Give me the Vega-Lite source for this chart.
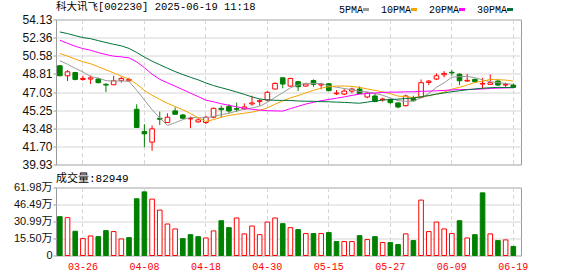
{
  "$schema": "https://vega.github.io/schema/vega-lite/v6.json",
  "background": "white",
  "padding": {"left": 12, "top": 0.5, "right": 4, "bottom": 2},
  "config": {
    "view": {"stroke": "#999999", "strokeWidth": 1},
    "concat": {"spacing": 0},
    "axis": {"gridColor": "#d6d6d6", "gridWidth": 1, "tickColor": "#999999", "domain": false, "title": null, "labelOverlap": false}
  },
  "datasets": {
    "k": [
      {"d":"03-21","o":49.60,"h":49.66,"l":48.58,"c":48.62,"v":354000,"cd":"d","vd":"d","m5":50.10,"m10":50.80,"m20":52.10,"m30":52.91},
      {"d":"03-24","o":48.62,"h":49.17,"l":48.10,"c":49.01,"v":345000,"cd":"u","vd":"u","m5":49.75,"m10":50.55,"m20":51.80,"m30":52.75},
      {"d":"03-25","o":48.94,"h":49.01,"l":48.17,"c":48.26,"v":221000,"cd":"d","vd":"d","m5":49.35,"m10":50.25,"m20":51.51,"m30":52.55},
      {"d":"03-26","o":48.26,"h":48.62,"l":48.13,"c":48.36,"v":154000,"cd":"u","vd":"u","m5":49.00,"m10":50.00,"m20":51.28,"m30":52.36},
      {"d":"03-27","o":48.30,"h":48.65,"l":47.81,"c":48.42,"v":178000,"cd":"u","vd":"u","m5":48.53,"m10":49.80,"m20":51.12,"m30":52.25},
      {"d":"03-28","o":48.30,"h":48.42,"l":47.90,"c":47.94,"v":172000,"cd":"d","vd":"d","m5":48.40,"m10":49.50,"m20":50.89,"m30":52.06},
      {"d":"03-31","o":47.78,"h":47.90,"l":47.03,"c":47.71,"v":227000,"cd":"d","vd":"d","m5":48.14,"m10":49.20,"m20":50.70,"m30":51.88},
      {"d":"04-01","o":47.74,"h":48.62,"l":47.70,"c":48.13,"v":218000,"cd":"u","vd":"u","m5":48.11,"m10":48.90,"m20":50.54,"m30":51.70},
      {"d":"04-02","o":48.17,"h":48.52,"l":47.94,"c":48.36,"v":151000,"cd":"u","vd":"u","m5":48.11,"m10":48.58,"m20":50.47,"m30":51.55},
      {"d":"04-03","o":48.13,"h":48.42,"l":48.04,"c":48.26,"v":163000,"cd":"u","vd":"d","m5":48.08,"m10":48.31,"m20":50.37,"m30":51.30},
      {"d":"04-07","o":45.34,"h":45.83,"l":43.52,"c":43.55,"v":517000,"cd":"d","vd":"d","m5":47.20,"m10":47.80,"m20":49.98,"m30":50.90},
      {"d":"04-08","o":43.16,"h":43.88,"l":41.63,"c":42.93,"v":580000,"cd":"d","vd":"d","m5":46.25,"m10":47.19,"m20":49.42,"m30":50.45},
      {"d":"04-09","o":42.12,"h":43.75,"l":41.28,"c":43.42,"v":514000,"cd":"u","vd":"u","m5":45.30,"m10":46.71,"m20":48.77,"m30":50.05},
      {"d":"04-10","o":44.46,"h":45.11,"l":43.81,"c":44.36,"v":414000,"cd":"d","vd":"u","m5":44.50,"m10":46.31,"m20":48.27,"m30":49.70},
      {"d":"04-11","o":44.04,"h":44.95,"l":44.00,"c":44.56,"v":287000,"cd":"u","vd":"u","m5":43.76,"m10":45.92,"m20":47.93,"m30":49.36},
      {"d":"04-14","o":45.18,"h":45.53,"l":44.82,"c":44.85,"v":242000,"cd":"d","vd":"u","m5":44.02,"m10":45.61,"m20":47.60,"m30":49.03},
      {"d":"04-15","o":44.78,"h":44.88,"l":44.40,"c":44.46,"v":154000,"cd":"d","vd":"d","m5":44.33,"m10":45.29,"m20":47.26,"m30":48.74},
      {"d":"04-16","o":44.40,"h":44.62,"l":43.49,"c":44.43,"v":190000,"cd":"u","vd":"d","m5":44.53,"m10":44.91,"m20":46.92,"m30":48.47},
      {"d":"04-17","o":44.10,"h":44.46,"l":44.04,"c":44.30,"v":172000,"cd":"u","vd":"d","m5":44.51,"m10":44.51,"m20":46.58,"m30":48.22},
      {"d":"04-18","o":44.04,"h":44.72,"l":43.88,"c":44.56,"v":160000,"cd":"u","vd":"u","m5":44.51,"m10":44.14,"m20":46.23,"m30":47.92},
      {"d":"04-21","o":44.56,"h":45.50,"l":44.46,"c":45.43,"v":224000,"cd":"u","vd":"u","m5":44.64,"m10":44.33,"m20":46.07,"m30":47.66},
      {"d":"04-22","o":45.43,"h":45.69,"l":44.53,"c":45.30,"v":317000,"cd":"d","vd":"d","m5":44.82,"m10":44.56,"m20":45.88,"m30":47.45},
      {"d":"04-23","o":45.60,"h":45.83,"l":44.95,"c":45.17,"v":254000,"cd":"d","vd":"d","m5":44.95,"m10":44.74,"m20":45.73,"m30":47.25},
      {"d":"04-24","o":45.40,"h":45.99,"l":45.08,"c":45.34,"v":342000,"cd":"d","vd":"u","m5":45.16,"m10":44.85,"m20":45.58,"m30":47.03},
      {"d":"04-25","o":45.37,"h":45.92,"l":45.30,"c":45.56,"v":197000,"cd":"u","vd":"u","m5":45.36,"m10":44.95,"m20":45.43,"m30":46.80},
      {"d":"04-28","o":45.86,"h":46.67,"l":45.69,"c":45.96,"v":269000,"cd":"u","vd":"u","m5":45.47,"m10":45.06,"m20":45.34,"m30":46.55},
      {"d":"04-29","o":46.09,"h":46.34,"l":45.69,"c":46.18,"v":190000,"cd":"u","vd":"u","m5":45.64,"m10":45.23,"m20":45.26,"m30":46.35},
      {"d":"04-30","o":46.25,"h":47.12,"l":46.09,"c":47.00,"v":305000,"cd":"u","vd":"u","m5":46.01,"m10":45.48,"m20":45.20,"m30":46.25},
      {"d":"05-06","o":47.32,"h":47.97,"l":47.29,"c":47.87,"v":342000,"cd":"u","vd":"u","m5":46.51,"m10":45.84,"m20":45.18,"m30":46.22},
      {"d":"05-07","o":48.42,"h":48.45,"l":47.39,"c":47.81,"v":290000,"cd":"d","vd":"d","m5":46.96,"m10":46.16,"m20":45.16,"m30":46.21},
      {"d":"05-08","o":47.61,"h":48.42,"l":47.55,"c":48.36,"v":254000,"cd":"u","vd":"u","m5":47.44,"m10":46.46,"m20":45.40,"m30":46.20},
      {"d":"05-09","o":48.04,"h":48.10,"l":47.13,"c":47.55,"v":236000,"cd":"d","vd":"d","m5":47.72,"m10":46.68,"m20":45.63,"m30":46.15},
      {"d":"05-12","o":47.61,"h":47.87,"l":47.55,"c":47.81,"v":200000,"cd":"u","vd":"u","m5":47.88,"m10":46.94,"m20":45.85,"m30":46.13},
      {"d":"05-13","o":48.16,"h":48.26,"l":47.55,"c":47.78,"v":200000,"cd":"d","vd":"d","m5":47.86,"m10":47.19,"m20":46.02,"m30":46.12},
      {"d":"05-14","o":47.71,"h":47.94,"l":47.29,"c":47.81,"v":200000,"cd":"u","vd":"u","m5":47.86,"m10":47.41,"m20":46.18,"m30":46.09},
      {"d":"05-15","o":47.84,"h":47.90,"l":47.13,"c":47.16,"v":209000,"cd":"d","vd":"d","m5":47.62,"m10":47.54,"m20":46.30,"m30":46.07},
      {"d":"05-16","o":46.86,"h":47.22,"l":46.73,"c":46.93,"v":127000,"cd":"u","vd":"d","m5":47.50,"m10":47.61,"m20":46.42,"m30":46.04},
      {"d":"05-19","o":46.83,"h":47.32,"l":46.73,"c":47.12,"v":127000,"cd":"u","vd":"u","m5":47.37,"m10":47.62,"m20":46.55,"m30":46.01},
      {"d":"05-20","o":47.12,"h":47.45,"l":46.90,"c":47.32,"v":127000,"cd":"u","vd":"u","m5":47.27,"m10":47.57,"m20":46.70,"m30":45.97},
      {"d":"05-21","o":47.32,"h":47.58,"l":46.83,"c":46.88,"v":181000,"cd":"d","vd":"d","m5":47.08,"m10":47.48,"m20":46.82,"m30":45.93},
      {"d":"05-22","o":46.54,"h":47.00,"l":46.41,"c":46.92,"v":145000,"cd":"u","vd":"u","m5":47.05,"m10":47.33,"m20":46.89,"m30":46.04},
      {"d":"05-23","o":46.64,"h":46.90,"l":46.05,"c":46.09,"v":172000,"cd":"d","vd":"d","m5":46.89,"m10":47.19,"m20":46.93,"m30":46.14},
      {"d":"05-26","o":46.28,"h":46.47,"l":46.09,"c":46.34,"v":118000,"cd":"u","vd":"u","m5":46.71,"m10":47.04,"m20":46.99,"m30":46.24},
      {"d":"05-27","o":46.31,"h":46.41,"l":45.83,"c":45.99,"v":118000,"cd":"d","vd":"d","m5":46.44,"m10":46.86,"m20":47.02,"m30":46.29},
      {"d":"05-28","o":45.96,"h":46.02,"l":45.44,"c":45.56,"v":100000,"cd":"d","vd":"d","m5":46.18,"m10":46.63,"m20":47.02,"m30":46.33},
      {"d":"05-29","o":45.69,"h":46.77,"l":45.60,"c":46.64,"v":197000,"cd":"u","vd":"u","m5":46.12,"m10":46.57,"m20":47.05,"m30":46.39},
      {"d":"05-30","o":46.41,"h":46.67,"l":46.09,"c":46.18,"v":136000,"cd":"d","vd":"d","m5":46.14,"m10":46.49,"m20":47.05,"m30":46.44},
      {"d":"06-03","o":46.51,"h":48.26,"l":46.41,"c":47.94,"v":505000,"cd":"u","vd":"u","m5":46.46,"m10":46.57,"m20":47.10,"m30":46.56},
      {"d":"06-04","o":47.97,"h":48.20,"l":47.71,"c":48.10,"v":218000,"cd":"u","vd":"u","m5":46.88,"m10":46.65,"m20":47.11,"m30":46.69},
      {"d":"06-05","o":48.30,"h":48.85,"l":48.20,"c":48.62,"v":305000,"cd":"u","vd":"u","m5":47.50,"m10":46.83,"m20":47.15,"m30":46.82},
      {"d":"06-06","o":48.72,"h":49.08,"l":48.46,"c":48.85,"v":242000,"cd":"u","vd":"u","m5":47.93,"m10":47.02,"m20":47.18,"m30":46.94},
      {"d":"06-09","o":48.96,"h":49.17,"l":48.62,"c":48.90,"v":200000,"cd":"d","vd":"u","m5":48.48,"m10":47.31,"m20":47.24,"m30":47.06},
      {"d":"06-10","o":48.78,"h":48.85,"l":47.71,"c":48.13,"v":317000,"cd":"d","vd":"d","m5":48.54,"m10":47.49,"m20":47.26,"m30":47.15},
      {"d":"06-11","o":48.10,"h":48.81,"l":48.07,"c":48.17,"v":160000,"cd":"u","vd":"u","m5":48.56,"m10":47.71,"m20":47.28,"m30":47.25},
      {"d":"06-12","o":48.26,"h":48.36,"l":47.97,"c":48.04,"v":190000,"cd":"d","vd":"d","m5":48.43,"m10":47.96,"m20":47.29,"m30":47.33},
      {"d":"06-13","o":47.81,"h":48.42,"l":47.32,"c":47.87,"v":571000,"cd":"u","vd":"d","m5":48.22,"m10":48.08,"m20":47.33,"m30":47.40},
      {"d":"06-16","o":47.78,"h":48.75,"l":47.71,"c":47.94,"v":197000,"cd":"u","vd":"u","m5":48.03,"m10":48.26,"m20":47.38,"m30":47.45},
      {"d":"06-17","o":48.10,"h":48.26,"l":47.61,"c":47.71,"v":136000,"cd":"d","vd":"d","m5":47.95,"m10":48.23,"m20":47.41,"m30":47.48},
      {"d":"06-18","o":47.71,"h":47.94,"l":47.48,"c":47.78,"v":142000,"cd":"u","vd":"u","m5":47.87,"m10":48.20,"m20":47.43,"m30":47.47},
      {"d":"06-19","o":47.71,"h":47.87,"l":47.39,"c":47.48,"v":82949,"cd":"d","vd":"d","m5":47.76,"m10":48.09,"m20":47.46,"m30":47.46}
    ]
  },
  "vconcat": [
    {
      "width": 465,
      "height": 145,
      "title": {"text": "科大讯飞[002230] 2025-06-19 11:18", "anchor": "start", "frame": "group", "font": "Liberation Mono, Noto Sans CJK SC", "fontSize": 10.5, "fontWeight": "normal", "color": "#000000", "offset": 1.5},
      "data": {"name": "k"},
      "layer": [
        {
          "mark": {"type": "rule", "strokeWidth": 1},
          "encoding": {
            "x": {"field": "d", "type": "ordinal", "sort": null, "bandPosition": 0.5,
                  "scale": {"paddingInner": 0, "paddingOuter": 0.25, "align": 0},
                  "axis": {"labels": false, "ticks": false, "domain": false, "grid": true, "gridDash": [4, 3], "bandPosition": 0.5,
                           "values": ["03-26","04-08","04-18","04-30","05-15","05-27","06-09","06-19"]}},
            "y": {"field": "l", "type": "quantitative",
                  "scale": {"domain": [39.93, 54.13], "nice": false, "zero": false},
                  "axis": {"values": [39.93, 41.70, 43.48, 45.25, 47.03, 48.81, 50.58, 52.36, 54.13], "tickCount": 30, "format": ".2f", "grid": true, "tickSize": 3, "labelPadding": 1, "labelFont": "Liberation Sans", "labelFontSize": 12, "labelColor": "#111111"}},
            "y2": {"field": "h"},
            "stroke": {"field": "cd", "type": "nominal", "scale": {"domain": ["u", "d"], "range": ["#ff0000", "#008000"]}, "legend": null}
          }
        },
        {
          "mark": {"type": "bar", "width": {"band": 0.6}, "strokeWidth": 1},
          "encoding": {
            "x": {"field": "d", "type": "ordinal", "sort": null},
            "y": {"field": "o", "type": "quantitative"},
            "y2": {"field": "c"},
            "stroke": {"field": "cd", "type": "nominal", "legend": null},
            "fill": {"field": "cd", "type": "nominal", "scale": {"domain": ["u", "d"], "range": ["#ffffff", "#008000"]}, "legend": null}
          }
        },
        {
          "mark": {"type": "line", "strokeWidth": 1},
          "encoding": {
            "x": {"field": "d", "type": "ordinal", "sort": null, "bandPosition": 0.5},
            "y": {"field": "m5", "type": "quantitative"},
            "color": {"datum": "5PMA", "type": "nominal",
                      "scale": {"domain": ["5PMA", "10PMA", "20PMA", "30PMA"], "range": ["#9a9a9a", "#f5a300", "#ff00ff", "#00733a"]},
                      "legend": {"orient": "none", "legendX": 305, "legendY": -15, "direction": "horizontal", "title": null,
                                 "symbolType": "M-1,0H1", "symbolSize": 36, "symbolStrokeWidth": 3,
                                 "labelFont": "Liberation Mono", "labelFontSize": 10, "labelColor": "#000000",
                                 "labelAlign": "right", "labelOffset": -8, "columnPadding": 5, "labelLimit": 0}}
          }
        },
        {
          "mark": {"type": "line", "strokeWidth": 1},
          "encoding": {
            "x": {"field": "d", "type": "ordinal", "sort": null, "bandPosition": 0.5},
            "y": {"field": "m10", "type": "quantitative"},
            "color": {"datum": "10PMA", "type": "nominal"}
          }
        },
        {
          "mark": {"type": "line", "strokeWidth": 1},
          "encoding": {
            "x": {"field": "d", "type": "ordinal", "sort": null, "bandPosition": 0.5},
            "y": {"field": "m20", "type": "quantitative"},
            "color": {"datum": "20PMA", "type": "nominal"}
          }
        },
        {
          "mark": {"type": "line", "strokeWidth": 1},
          "encoding": {
            "x": {"field": "d", "type": "ordinal", "sort": null, "bandPosition": 0.5},
            "y": {"field": "m30", "type": "quantitative"},
            "color": {"datum": "30PMA", "type": "nominal"}
          }
        }
      ]
    },
    {
      "width": 465,
      "height": 68,
      "title": {"text": "成交量:82949", "anchor": "start", "frame": "group", "font": "Liberation Mono, Noto Sans CJK SC", "fontSize": 11, "fontWeight": "normal", "color": "#000000", "offset": -2},
      "data": {"name": "k"},
      "mark": {"type": "bar", "width": {"band": 0.6}, "strokeWidth": 1},
      "encoding": {
        "x": {"field": "d", "type": "ordinal", "sort": null,
              "scale": {"paddingInner": 0, "paddingOuter": 0.25, "align": 0},
              "axis": {"ticks": false, "domain": false, "grid": true, "gridDash": [4, 3], "bandPosition": 0.5, "labelAngle": 0,
                       "labelFont": "Liberation Mono", "labelFontSize": 10, "labelColor": "#ff0000", "labelPadding": 6,
                       "values": ["03-26","04-08","04-18","04-30","05-15","05-27","06-09","06-19"]}},
        "y": {"field": "v", "type": "quantitative",
              "scale": {"domain": [0, 619800], "nice": false},
              "axis": {"values": [0, 155000, 309900, 464900, 619800], "tickCount": 30, "grid": true, "tickSize": 3, "labelPadding": 1,
                       "labelExpr": "datum.value === 0 ? '0' : format(datum.value / 10000, '.2f') + '万'",
                       "labelFont": "Liberation Sans, Noto Sans CJK SC", "labelFontSize": 11, "labelColor": "#111111"}},
        "stroke": {"field": "vd", "type": "nominal", "scale": {"domain": ["u", "d"], "range": ["#ff0000", "#008000"]}, "legend": null},
        "fill": {"field": "vd", "type": "nominal", "scale": {"domain": ["u", "d"], "range": ["#ffffff", "#008000"]}, "legend": null}
      }
    }
  ]
}
